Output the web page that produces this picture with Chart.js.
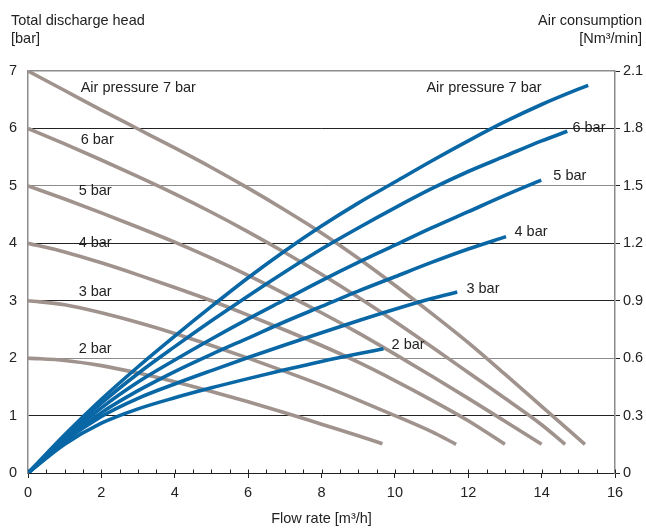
<!DOCTYPE html>
<html><head><meta charset="utf-8">
<script src="https://cdn.jsdelivr.net/npm/chart.js@4"></script>
<style>html,body{margin:0;padding:0;background:#fff}</style>
</head><body>
<canvas id="c" width="646" height="528"></canvas>
<script>
// ---- Data ----
// Total discharge head [bar] vs flow rate [m3/h], per air pressure
const headFlow7 = [0,1,2,3,4,5,6,7,8,9,10,11,12,13,14,15.18];
const head7     = [7.0,6.66,6.32,5.99,5.66,5.32,4.96,4.58,4.18,3.74,3.27,2.78,2.27,1.72,1.16,0.5];
const headFlow6 = [0,1,2,3,4,5,6,7,8,9,10,11,12,13,14,14.64];
const head6     = [6.0,5.73,5.45,5.16,4.86,4.54,4.20,3.84,3.46,3.06,2.64,2.20,1.75,1.30,0.84,0.5];
const headFlow5 = [0,1,2,3,4,5,6,7,8,9,10,11,12,13,14];
const head5     = [5.0,4.77,4.53,4.28,4.02,3.74,3.44,3.12,2.79,2.44,2.07,1.69,1.30,0.90,0.5];
const headFlow4 = [0,1,2,3,4,5,6,7,8,9,10,11,12,13];
const head4     = [4.0,3.85,3.66,3.45,3.23,3.00,2.75,2.49,2.22,1.93,1.61,1.27,0.91,0.5];
const headFlow3 = [0,1,2,3,4,5,6,7,8,9,10,11,11.67];
const head3     = [3.0,2.93,2.79,2.62,2.43,2.22,2.0,1.77,1.53,1.27,1.00,0.72,0.5];
const headFlow2 = [0,1,2,3,4,5,6,7,8,9,9.66];
const head2     = [2.0,1.96,1.87,1.74,1.59,1.42,1.24,1.05,0.85,0.65,0.51];

// Air consumption [Nm3/min] vs flow rate [m3/h], per air pressure
const airFlow7 = [0,1,2,3,4,5,6,7,8,9,10,11,12,13,14,15,15.27];
const air7     = [0,0.20,0.385,0.555,0.715,0.87,1.02,1.16,1.29,1.41,1.52,1.63,1.735,1.835,1.925,2.005,2.025];
const airFlow6 = [0,1,2,3,4,5,6,7,8,9,10,11,12,13,14,14.7];
const air6     = [0,0.19,0.365,0.52,0.66,0.795,0.925,1.05,1.17,1.28,1.385,1.485,1.575,1.655,1.735,1.785];
const airFlow5 = [0,1,2,3,4,5,6,7,8,9,10,11,12,13,13.99];
const air5     = [0,0.18,0.34,0.475,0.59,0.70,0.805,0.905,1.005,1.10,1.19,1.28,1.365,1.45,1.53];
const airFlow4 = [0,1,2,3,4,5,6,7,8,9,10,11,12,13.03];
const air4     = [0,0.17,0.315,0.43,0.53,0.62,0.705,0.79,0.87,0.95,1.025,1.10,1.17,1.235];
const airFlow3 = [0,1,2,3,4,5,6,7,8,9,10,11,11.7];
const air3     = [0,0.165,0.295,0.39,0.465,0.535,0.603,0.669,0.733,0.795,0.855,0.911,0.945];
const airFlow2 = [0,1,2,3,4,5,6,7,8,9,9.69];
const air2     = [0,0.15,0.26,0.335,0.393,0.445,0.493,0.539,0.583,0.623,0.649];

// Axis ticks
const flowTicks = [0,2,4,6,8,10,12,14,16];
const headTicks = [0,1,2,3,4,5,6,7];
const airTicks  = [0,0.3,0.6,0.9,1.2,1.5,1.8,2.1];

// Curve labels
const headLabels = ['Air pressure 7 bar','6 bar','5 bar','4 bar','3 bar','2 bar'];
const headLabelX = [1.436,1.436,1.38,1.38,1.38,1.38];
const headLabelY = [6.70,5.80,4.91,4.00,3.15,2.16];
const airLabels  = ['Air pressure 7 bar','6 bar','5 bar','4 bar','3 bar','2 bar'];
const airLabelX  = [10.86,14.84,14.32,13.26,11.95,9.91];
const airLabelY  = [2.01,1.80,1.55,1.26,0.96,0.67];

// ---- Build ----
const GRAY = '#a0938e', BLUE = '#0a67a6', TXT = '#222';
const FONT = "'Liberation Sans', Arial, sans-serif";
const FS = 14.5;
const pts = (xs, ys) => xs.map((x, i) => ({x, y: ys[i]}));

const grayCurves = [[headFlow7,head7],[headFlow6,head6],[headFlow5,head5],[headFlow4,head4],[headFlow3,head3],[headFlow2,head2]];
const blueCurves = [[airFlow7,air7],[airFlow6,air6],[airFlow5,air5],[airFlow4,air4],[airFlow3,air3],[airFlow2,air2]];

const datasets = [];
blueCurves.forEach(([xs, ys]) => datasets.push({
  data: pts(xs, ys), yAxisID: 'y1', borderColor: BLUE, borderWidth: 3.6,
  pointRadius: 0, cubicInterpolationMode: 'monotone', fill: false, order: 0
}));
grayCurves.forEach(([xs, ys]) => datasets.push({
  data: pts(xs, ys), yAxisID: 'y', borderColor: GRAY, borderWidth: 3.6,
  pointRadius: 0, cubicInterpolationMode: 'monotone', fill: false, order: 1
}));

const textPlugin = {
  id: 'texts',
  beforeDatasetsDraw(chart) {
    const {ctx, scales: {x}, chartArea: ca} = chart;
    ctx.save();
    ctx.strokeStyle = '#222'; ctx.lineWidth = 1;
    for (let v = 0; v <= 16.001; v += 0.5) {
      const px = Math.round(x.getPixelForValue(v)) + 0.5;
      ctx.beginPath(); ctx.moveTo(px, ca.bottom); ctx.lineTo(px, ca.bottom - 3.5); ctx.stroke();
    }
    ctx.restore();
  },
  afterDraw(chart) {
    const {ctx, scales: {x, y, y1}} = chart;
    ctx.save();
    ctx.fillStyle = TXT;
    ctx.font = FS + 'px ' + FONT;
    ctx.textBaseline = 'middle';
    ctx.textAlign = 'left';
    ctx.fillText('Total discharge head', 11, 21);
    ctx.fillText('[bar]', 11, 39);
    ctx.textAlign = 'right';
    ctx.fillText('Air consumption', 642, 21);
    ctx.fillText('[Nm³/min]', 642, 39);
    ctx.textAlign = 'left';
    headLabels.forEach((t, i) => ctx.fillText(t, x.getPixelForValue(headLabelX[i]), y.getPixelForValue(headLabelY[i])));
    airLabels.forEach((t, i) => ctx.fillText(t, x.getPixelForValue(airLabelX[i]), y1.getPixelForValue(airLabelY[i])));
    ctx.restore();
  }
};

const tickFont = {family: FONT, size: FS};
new Chart(document.getElementById('c'), {
  type: 'line',
  data: {datasets},
  plugins: [textPlugin],
  options: {
    responsive: false, animation: false,
    layout: {padding: {top: 71, left: 0, right: 0, bottom: 0}},
    plugins: {legend: {display: false}, tooltip: {enabled: false}},
    scales: {
      x: {
        type: 'linear', position: 'bottom', min: 0, max: 16,
        afterBuildTicks: s => { s.ticks = flowTicks.map(v => ({value: v})); },
        ticks: {font: tickFont, color: TXT, padding: 6, maxRotation: 0, callback: v => String(v)},
        grid: {drawOnChartArea: false, drawTicks: true, tickLength: 5, tickColor: '#222', color: '#222'},
        border: {color: '#222', width: 1},
        title: {display: true, text: 'Flow rate [m³/h]', font: tickFont, color: TXT, padding: {top: 0, bottom: 0}},
        afterFit: s => { s.height = 55; }
      },
      y: {
        type: 'linear', position: 'left', min: 0, max: 7,
        afterBuildTicks: s => { s.ticks = headTicks.map(v => ({value: v})); },
        ticks: {font: tickFont, color: TXT, padding: 11, callback: v => String(v)},
        grid: {
          drawTicks: false,
          color: c => (c.tick && (c.tick.value === 2 || c.tick.value === 5 || c.tick.value === 7)) ? '#8c8c8c' : '#222',
          lineWidth: c => (c.tick && c.tick.value === 7) ? 1.5 : 1
        },
        border: {color: '#8c8c8c', width: 1.5},
        afterFit: s => { s.width = 28; }
      },
      y1: {
        type: 'linear', position: 'right', min: 0, max: 2.1,
        afterBuildTicks: s => { s.ticks = airTicks.map(v => ({value: v})); },
        ticks: {font: tickFont, color: TXT, padding: 3, callback: v => v === 0 ? '0' : (Math.round(v * 10) / 10).toFixed(1)},
        grid: {drawOnChartArea: false, drawTicks: true, tickLength: 5, tickColor: '#222'},
        border: {color: '#8c8c8c', width: 1.5},
        afterFit: s => { s.width = 31; }
      }
    }
  }
});
</script>
</body></html>
